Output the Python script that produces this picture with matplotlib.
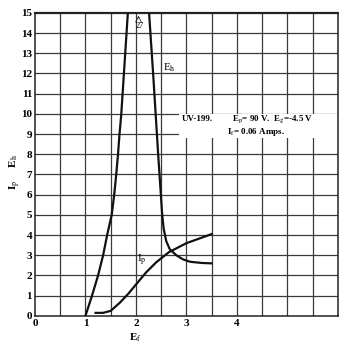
import matplotlib
matplotlib.use("Agg")
import matplotlib.pyplot as plt
from matplotlib.patches import Rectangle

plt.rcParams['font.family'] = ['Liberation Serif', 'DejaVu Serif']
plt.rcParams['mathtext.fontset'] = 'stix'

# filament voltage vs heater/plate values
eh_x = [1.0, 1.13, 1.25, 1.35, 1.43, 1.52, 1.57, 1.61, 1.645, 1.675, 1.71, 1.84, 2.06,
        2.26, 2.34, 2.44, 2.52, 2.55, 2.6, 2.67, 2.8, 2.93, 3.07, 3.3, 3.5]
eh_y = [0, 1, 2, 3, 4, 5, 6, 7, 8, 9, 10, 15, 27,
        15, 12, 8, 5, 4.3, 3.7, 3.3, 3.0, 2.8, 2.68, 2.62, 2.6]

ip_x = [1.2, 1.35, 1.5, 1.68, 1.85, 2.0, 2.2, 2.4, 2.65, 3.0, 3.5]
ip_y = [0.15, 0.15, 0.25, 0.65, 1.1, 1.55, 2.15, 2.65, 3.15, 3.6, 4.05]

x_ticks = [0, 1, 2, 3, 4]
y_ticks = list(range(0, 16))

fig = plt.figure(figsize=(3.39, 3.46), dpi=100)
ax = fig.add_axes([0.103, 0.087, 0.894, 0.876])

ax.set_xlim(0, 6)
ax.set_ylim(0, 15)

# grid: every 0.5 on x, every 1 on y
for gx in [i * 0.5 for i in range(1, 12)]:
    ax.axvline(gx, color='#3a3a3a', lw=0.9, zorder=1)
for gy in range(1, 15):
    ax.axhline(gy, color='#3a3a3a', lw=0.9, zorder=1)

# white label box covering grid
ax.add_patch(Rectangle((2.86, 8.8), 3.14, 1.2, facecolor='white', edgecolor='none', zorder=2))

ax.plot(eh_x, eh_y, color='#111111', lw=1.6, zorder=3, clip_on=True)
ax.plot(ip_x, ip_y, color='#111111', lw=1.6, zorder=3)

for s in ax.spines.values():
    s.set_linewidth(1.1)
    s.set_color('#222222')
ax.spines['top'].set_linewidth(1.6)

ax.set_xticks(x_ticks)
ax.set_yticks(y_ticks)
ax.set_xticklabels([str(t) for t in x_ticks], fontsize=8, fontweight='bold')
ax.set_yticklabels([str(t) for t in y_ticks], fontsize=8, fontweight='bold')
ax.tick_params(axis='both', length=0, pad=2)
ax.tick_params(axis='x', pad=2)

ax.text(2.9, 9.72, 'UV-199.', fontsize=6.5, fontweight='bold', va='center', zorder=4)
ax.text(3.9, 9.72, r'E$_\mathrm{p}$= 90 V.  E$_\mathrm{g}$=-4.5 V', fontsize=6.5,
        fontweight='bold', va='center', zorder=4)
ax.text(3.8, 9.1, r'I$_\mathrm{f}$= 0.06 Amps.', fontsize=6.5, fontweight='bold',
        va='center', zorder=4)

ax.text(2.53, 12.3, r'E$_\mathrm{h}$', fontsize=8, va='center', zorder=4)
ax.text(2.02, 2.75, r'I$_\mathrm{p}$', fontsize=8, va='center', zorder=4)
ax.text(2.07, 14.35, '27', fontsize=6, ha='center', va='center', zorder=4)
ax.annotate('', xy=(2.05, 15.0), xytext=(2.05, 14.6),
            arrowprops=dict(arrowstyle='->', lw=0.6, color='#222222'), zorder=4)

fig.text(135 / 339, 1 - 338 / 346, r'E$_\mathrm{f}$', fontsize=8, fontweight='bold',
         ha='center', va='center')
fig.text(15 / 339, 1 - 172 / 346, r'I$_\mathrm{p}$     E$_\mathrm{h}$', fontsize=8,
         fontweight='bold', rotation=90, ha='center', va='center')

fig.savefig('out.png', dpi=100)
